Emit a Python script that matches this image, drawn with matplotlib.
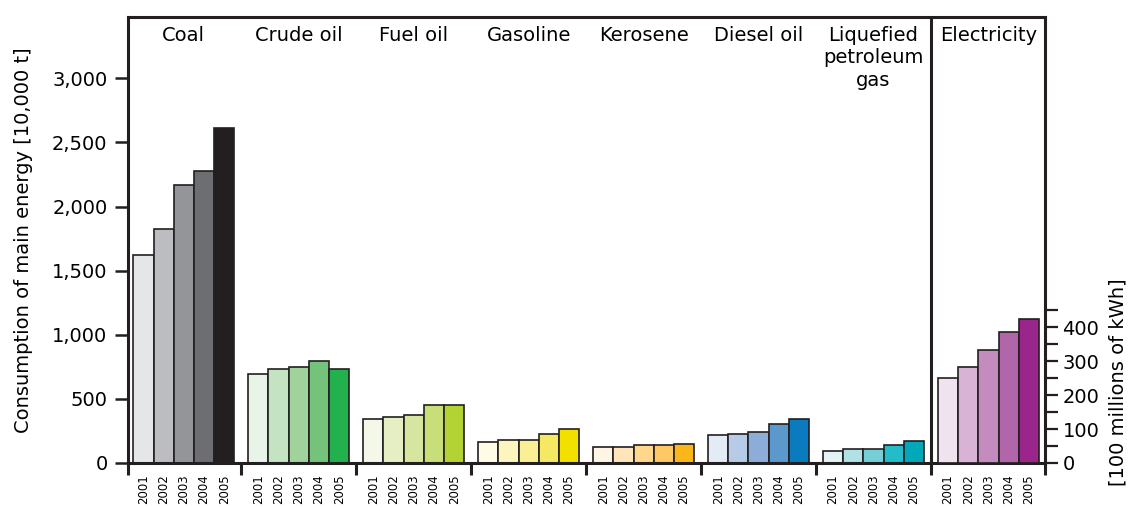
import matplotlib.pyplot as plt
import numpy as np
from matplotlib.ticker import FuncFormatter

years = ['2001', '2002', '2003', '2004', '2005']
groups = ['Coal', 'Crude oil', 'Fuel oil', 'Gasoline', 'Kerosene', 'Diesel oil',
          'Liquefied\npetroleum\ngas', 'Electricity']

# consumption in 10,000 t
coal = [1622, 1825, 2166, 2280, 2613]
crude_oil = [694, 733, 746, 795, 733]
fuel_oil = [341, 356, 377, 452, 452]
gasoline = [164, 177, 177, 226, 263]
kerosene = [127, 127, 140, 140, 151]
diesel_oil = [216, 226, 239, 302, 341]
lpg = [96, 109, 109, 138, 174]
# electricity in 100 million kWh (right axis)
electricity = [251, 283, 334, 385, 424]

colors = [
    ['#e5e6e8', '#bcbdc0', '#939598', '#6d6e71', '#231f20'],
    ['#e8f4e8', '#c3e3c2', '#9fd39b', '#75c27a', '#23b14d'],
    ['#f4f8e8', '#e5efc3', '#d6e59f', '#c8de78', '#b3d234'],
    ['#fefbe6', '#fcf5c0', '#f9ef94', '#f5e963', '#f1e000'],
    ['#fff5e4', '#fee5bb', '#fed68c', '#fec864', '#fbb71a'],
    ['#e3ebf6', '#b5cbe8', '#8badd8', '#5b99cd', '#0a7bbf'],
    ['#e2f4f5', '#afe1e5', '#78ced7', '#23bccb', '#00a8ba'],
    ['#efe3ef', '#d8b3d6', '#c48bbe', '#b066a8', '#9a268b'],
]

fuel_series = [coal, crude_oil, fuel_oil, gasoline, kerosene, diesel_oil, lpg]

pitch = 5.69
edge = '#231f20'
fs = 14

fig = plt.figure(figsize=(11.3, 5.08), dpi=100)
ax = fig.add_axes([0.113, 0.0886, 0.8118, 0.8785])
ax2 = ax.twinx()

for g, vals in enumerate(fuel_series):
    xs = g * pitch + 0.5 + np.arange(5)
    ax.bar(xs, vals, width=1.0, color=colors[g], edgecolor=edge, linewidth=1.2, zorder=2)

xs_e = 7 * pitch + 0.5 + np.arange(5)
ax2.bar(xs_e, electricity, width=1.0, color=colors[7], edgecolor=edge, linewidth=1.2, zorder=2)

xmin, xmax = -0.28, 7 * pitch + 5.3
ax.set_xlim(xmin, xmax)
ax.set_ylim(0, 3480)
ax2.set_ylim(0, 1315)

# left axis
ax.set_yticks([0, 500, 1000, 1500, 2000, 2500, 3000])
ax.yaxis.set_major_formatter(FuncFormatter(lambda v, p: f'{int(v):,}'))
ax.tick_params(axis='y', length=9.5, width=1.8, labelsize=fs, pad=5, color=edge)
ax.set_ylabel('Consumption of main energy [10,000 t]', fontsize=fs)
ax.yaxis.set_label_coords(-0.103, 0.5)

# group separators as bottom ticks, years as minor tick labels
seps = [xmin] + [g * pitch - 0.35 for g in range(1, 8)] + [xmax]
ax.set_xticks(seps)
ax.set_xticklabels([])
ax.tick_params(axis='x', which='major', length=8.5, width=2.2, color=edge)
year_pos = np.concatenate([g * pitch + 0.5 + np.arange(5) for g in range(8)])
ax.set_xticks(year_pos, minor=True)
ax.set_xticklabels(years * 8, minor=True, rotation=90, fontsize=8.5)
ax.tick_params(axis='x', which='minor', length=0, pad=8)

# right axis for electricity
ax2.set_yticks([0, 100, 200, 300, 400])
ax2.set_yticks([50, 150, 250, 350, 450], minor=True)
ax2.tick_params(axis='y', which='both', length=9.5, width=1.6, color=edge, labelsize=fs, pad=3)
ax2.text(1.0796, 0.1815, '[100 millions of kWh]', transform=ax.transAxes, rotation=90,
         ha='center', va='center', fontsize=fs)

for a in (ax, ax2):
    for side in ('left', 'right', 'top', 'bottom'):
        a.spines[side].set_color(edge)
        a.spines[side].set_linewidth(2.2)
ax2.spines['left'].set_visible(False)
ax2.spines['top'].set_visible(False)
ax2.spines['bottom'].set_visible(False)
ax.spines['right'].set_visible(False)

# divider between fuels and electricity
ax.axvline(7 * pitch - 0.35, color=edge, linewidth=2.2, zorder=3)

for g, name in enumerate(groups):
    ax.text(g * pitch + 2.5, 0.98, name, transform=ax.get_xaxis_transform(),
            ha='center', va='top', fontsize=fs, linespacing=1.25)

fig.savefig('out.png', dpi=100)
